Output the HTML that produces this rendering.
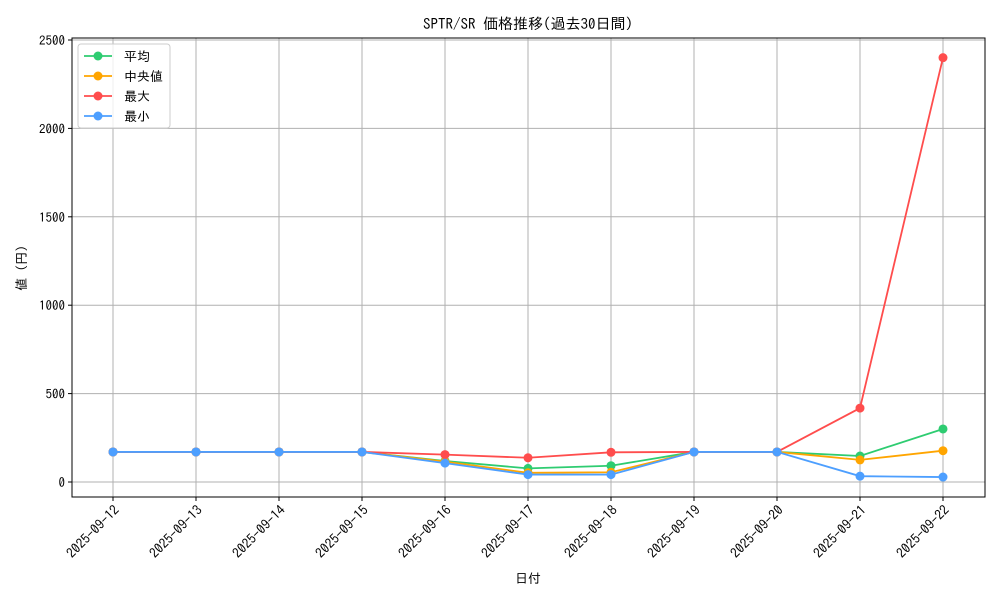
<!DOCTYPE html>
<html><head><meta charset="utf-8"><style>
body{margin:0;background:#fff}
svg text{font-family:"IPAGothic","Liberation Sans","Noto Sans CJK JP",sans-serif;fill:#000}
</style></head><body>
<svg id="c" width="1000" height="600" xmlns="http://www.w3.org/2000/svg">
<rect width="1000" height="600" fill="#fff"/>
<text x="528" y="29" font-size="15" text-anchor="middle">SPTR/SR 価格推移(過去30日間)</text>
<text x="528" y="583" font-size="13" text-anchor="middle">日付</text>
<text x="26" y="268" font-size="13" text-anchor="middle" transform="rotate(-90 26 268)">値 (円)</text>
<g id="grid"></g><g id="series"></g>
<rect x="72" y="38" width="913" height="459" fill="none" stroke="#000" stroke-width="1"/>
<g id="legend"></g>
</svg>
<script>
const categories=["2025-09-12","2025-09-13","2025-09-14","2025-09-15","2025-09-16","2025-09-17","2025-09-18","2025-09-19","2025-09-20","2025-09-21","2025-09-22"];
const meanVals=[170,170,170,170,119,77,92,170,170,147,300];
const medianVals=[170,170,170,170,115,52,55,170,170,125,177];
const maxVals=[170,170,170,170,155,137,168,170,170,418,2400];
const minVals=[170,170,170,170,107,42,42,170,170,33,28];
const yTicks=[0,500,1000,1500,2000,2500];
const seriesNames=["平均","中央値","最大","最小"];
const NS="http://www.w3.org/2000/svg";
const X=i=>113+i*83;
const Y=v=>482-v*(442/2500);
function mk(t,a,p){const e=document.createElementNS(NS,t);for(const k in a)e.setAttribute(k,a[k]);p.appendChild(e);return e;}
const grid=document.getElementById('grid');
categories.forEach((c,i)=>{
 const l=mk('line',{x1:X(i),x2:X(i),y1:38,y2:497,stroke:'#b0b0b0','stroke-width':1},grid);
 
 
 mk('line',{x1:X(i),x2:X(i),y1:497,y2:501,stroke:'#000'},grid);
 const ax=X(i)+7, ay=511;
 const t=mk('text',{x:ax,y:ay,'font-size':13.5,'text-anchor':'end',transform:`rotate(-45 ${ax} ${ay})`},grid);
 t.textContent=c;
 
 
});
yTicks.forEach(v=>{
 const l=mk('line',{x1:72,x2:985,y1:Y(v),y2:Y(v),stroke:'#b0b0b0','stroke-width':1},grid);
 
 
 mk('line',{x1:68,x2:72,y1:Y(v),y2:Y(v),stroke:'#000'},grid);
 const t=mk('text',{x:65,y:Y(v)+5,'font-size':13,'text-anchor':'end'},grid);
 t.textContent=v;
 
 
});
const sg=document.getElementById('series');
const all=[[meanVals,'#2ecc71','mean'],[medianVals,'#ffa500','median'],[maxVals,'#ff4d4d','max'],[minVals,'#4d9fff','min']];
all.forEach(([vals,col,n])=>{
 const g=mk('g',{},sg);
 
 
 mk('polyline',{points:vals.map((v,i)=>X(i)+','+Y(v)).join(' '),fill:'none',stroke:col,'stroke-width':1.8},g);
 vals.forEach((v,i)=>{
  const c=mk('circle',{cx:X(i),cy:Y(v),r:4.5,fill:col},g);
  
  
 });
});
const lg=document.getElementById('legend');
const box=mk('rect',{x:78,y:44,width:92,height:84,fill:'#fff','fill-opacity':0.8,stroke:'#ccc',rx:3},lg);


all.forEach(([v,col,n],i)=>{
 const y=56+i*20;
 const g=mk('g',{},lg);
 
 
 mk('line',{x1:84,x2:112,y1:y,y2:y,stroke:col,'stroke-width':1.8},g);
 mk('circle',{cx:98,cy:y,r:4.5,fill:col},g);
 const t=mk('text',{x:124,y:y+5,'font-size':13},g);
 t.textContent=seriesNames[i];
});
</script>
</body></html>
